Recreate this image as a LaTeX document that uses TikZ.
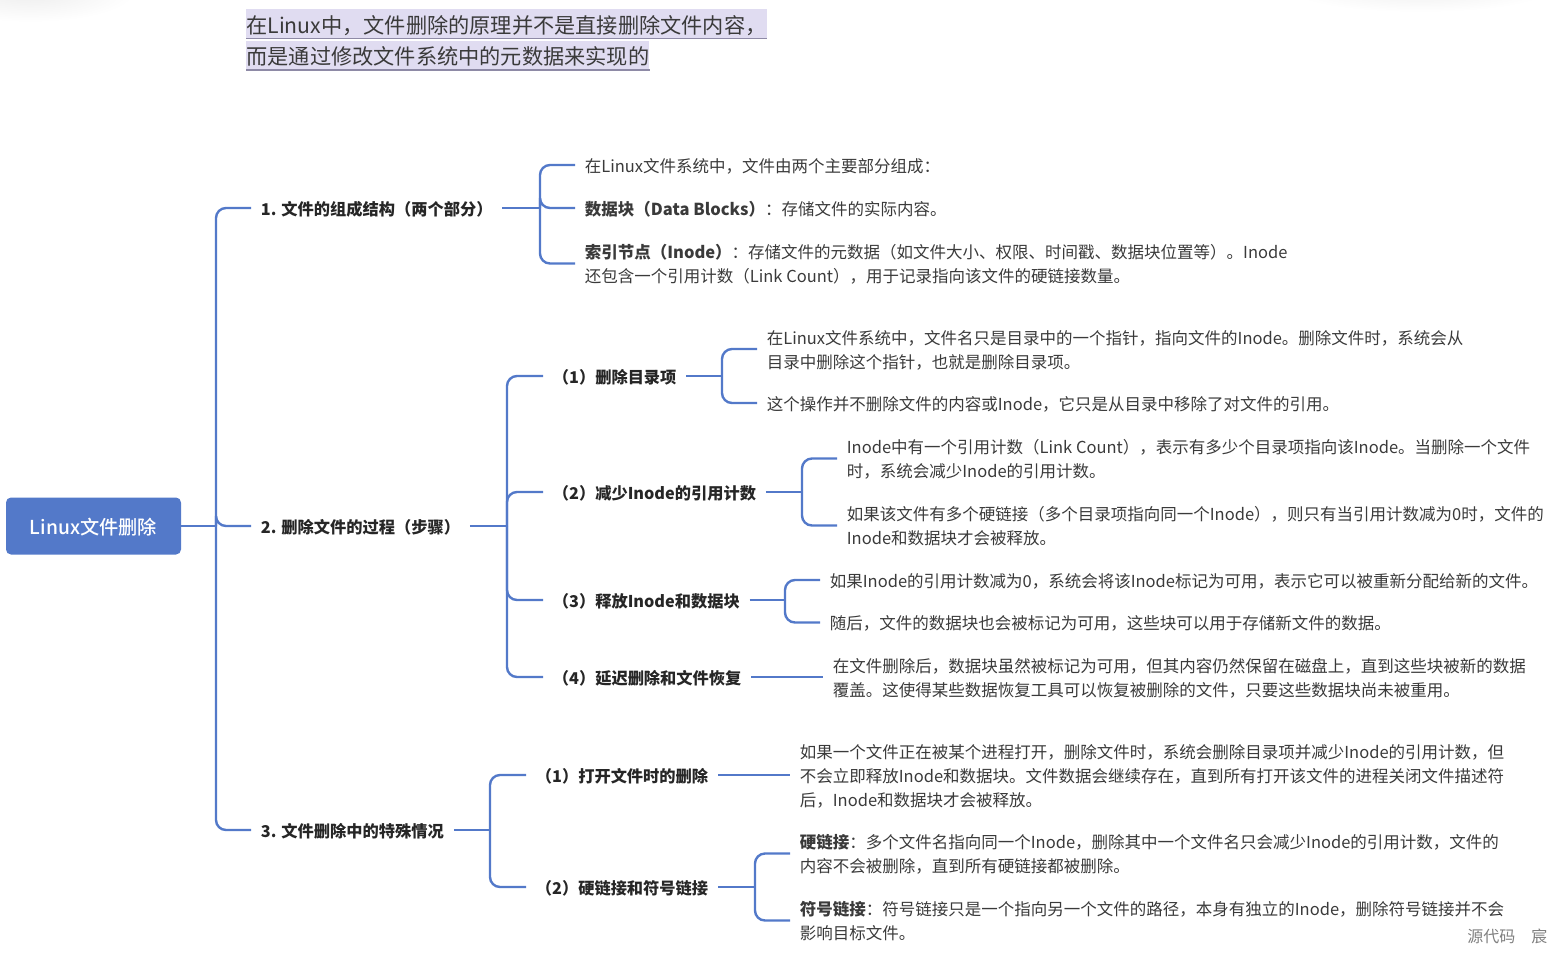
\documentclass[tikz,border=0pt]{standalone}
\usepackage{fontspec}
\usepackage{xcolor}
\setmainfont{Noto Sans CJK SC}
\newfontfamily\midfont{Noto Sans CJK SC}[UprightFont=* Medium]
\usetikzlibrary{calc, positioning}
\definecolor{linkblue}{HTML}{5379C9}
\definecolor{titlebg}{HTML}{E0DCF1}
\definecolor{titleline}{HTML}{8E8AA6}
\definecolor{inkgray}{HTML}{3A3A3A}
\tikzset{
  rootbox/.style={fill=linkblue, rounded corners=2.5pt, text=white, minimum width=87.5pt, minimum height=28.5pt,
    inner sep=0pt, font=\midfont\fontsize{9.6}{12}\selectfont},
  headline/.style={fill=titlebg, anchor=west, inner sep=0pt, text height=12pt, text depth=2.5pt, text=inkgray,
    font=\fontsize{10.6}{15}\selectfont},
  topic/.style={anchor=west, inner xsep=4.75pt, inner ysep=0pt, text=black!85, font=\bfseries\fontsize{8.12}{12}\selectfont},
  leaf/.style={anchor=west, inner xsep=4.75pt, inner ysep=0pt, align=left, text=inkgray, font=\fontsize{8.25}{12}\selectfont},
  link/.style={draw=linkblue, line width=1.2pt, rounded corners=5pt},
}

\begin{document}
\begin{tikzpicture}[x=0.5pt, y=-0.5pt]
\useasboundingbox (0,0) rectangle (1558,955);

% ------------------------------------------------------------------
% faint blur in the top corners
% ------------------------------------------------------------------
\shade[inner color=black!7, outer color=white, draw=none] (30,-8) ellipse (105 and 30);
\shade[inner color=black!6, outer color=white, draw=none] (1420,-10) ellipse (130 and 22);

% ------------------------------------------------------------------
% headline
% ------------------------------------------------------------------
\node[headline] (title1) at (246,23.5) {在Linux中，文件删除的原理并不是直接删除文件内容，};
\node[headline] (title2) at (246,55) {而是通过修改文件系统中的元数据来实现的};
\foreach \t in {title1,title2} {
  \draw[titleline, line width=0.8pt] (\t.south west) -- (\t.south east);
}

% ------------------------------------------------------------------
% root and first level, text set a little below the line reaching it
% ------------------------------------------------------------------
\node[rootbox] (root) at (93.5,526) {\raisebox{-0.75pt}[\height][\depth]{Linux文件删除}};
\node[topic] (n1) at (251,209) {1. 文件的组成结构（两个部分）};
\node[topic] (n2) at (251,527) {2. 删除文件的过程（步骤）};
\node[topic] (n3) at (251,831) {3. 文件删除中的特殊情况};

% ------------------------------------------------------------------
% second level
% ------------------------------------------------------------------
\node[topic] (s1) at (543,377) {（1）删除目录项};
\node[topic] (s2) at (543,493) {（2）减少Inode的引用计数};
\node[topic] (s3) at (543,601) {（3）释放Inode和数据块};
\node[topic] (s4) at (543,678) {（4）延迟删除和文件恢复};
\node[topic] (t1) at (526,776) {（1）打开文件时的删除};
\node[topic] (t2) at (526,888) {（2）硬链接和符号链接};

% ------------------------------------------------------------------
% leaves
% ------------------------------------------------------------------
\node[leaf] (a1) at (575,166) {在Linux文件系统中，文件由两个主要部分组成：};
\node[leaf] (a2) at (575,209) {\textbf{数据块（Data Blocks）}：存储文件的实际内容。};
\node[leaf] (a3) at (575,264.5) {\textbf{索引节点（Inode）}：存储文件的元数据（如文件大小、权限、时间戳、数据块位置等）。Inode\\还包含一个引用计数（Link Count），用于记录指向该文件的硬链接数量。};
\node[leaf] (b1) at (757,350) {在Linux文件系统中，文件名只是目录中的一个指针，指向文件的Inode。删除文件时，系统会从\\目录中删除这个指针，也就是删除目录项。};
\node[leaf] (b2) at (757,404) {这个操作并不删除文件的内容或Inode，它只是从目录中移除了对文件的引用。};
\node[leaf] (c1) at (837,459.5) {Inode中有一个引用计数（Link Count），表示有多少个目录项指向该Inode。当删除一个文件\\时，系统会减少Inode的引用计数。};
\node[leaf] (c2) at (837,526.5) {如果该文件有多个硬链接（多个目录项指向同一个Inode），则只有当引用计数减为0时，文件的\\Inode和数据块才会被释放。};
\node[leaf] (d1) at (820,581) {如果Inode的引用计数减为0，系统会将该Inode标记为可用，表示它可以被重新分配给新的文件。};
\node[leaf] (d2) at (820,623.5) {随后，文件的数据块也会被标记为可用，这些块可以用于存储新文件的数据。};
\node[leaf] (e1) at (823,678) {在文件删除后，数据块虽然被标记为可用，但其内容仍然保留在磁盘上，直到这些块被新的数据\\覆盖。这使得某些数据恢复工具可以恢复被删除的文件，只要这些数据块尚未被重用。};
\node[leaf] (f1) at (790,776) {如果一个文件正在被某个进程打开，删除文件时，系统会删除目录项并减少Inode的引用计数，但\\不会立即释放Inode和数据块。文件数据会继续存在，直到所有打开该文件的进程关闭文件描述符\\后，Inode和数据块才会被释放。};
\node[leaf] (g1) at (790,854.5) {\textbf{硬链接}：多个文件名指向同一个Inode，删除其中一个文件名只会减少Inode的引用计数，文件的\\内容不会被删除，直到所有硬链接都被删除。};
\node[leaf] (g2) at (790,921.5) {\textbf{符号链接}：符号链接只是一个指向另一个文件的路径，本身有独立的Inode，删除符号链接并不会\\影响目标文件。};

% watermark
\node[anchor=west, inner sep=0pt, text=black!50, font=\fontsize{8}{9}\selectfont] (mark1) at (1467,936) {源代码};
\node[anchor=west, inner sep=0pt, text=black!50, font=\fontsize{8}{9}\selectfont] (mark2) at (1531,936) {宸};

% ------------------------------------------------------------------
% junctions and connectors
% ------------------------------------------------------------------
\coordinate (j0) at (216,526);
\coordinate (j1) at (540,208);
\coordinate (j2) at (507,526);
\coordinate (j3) at (490,830);
\coordinate (js1) at (722,376);
\coordinate (js2) at (802,492);
\coordinate (js3) at (785,600);
\coordinate (jt2) at (755,887);

\draw[link] (root.east) -- (j0);
\foreach \from/\to in {n1/j1, n2/j2, n3/j3, s1/js1, s2/js2, s3/js3, t2/jt2} {
  \draw[link] ($(\from.east)+(0,-1)$) -- (\to);
}
\foreach \j/\c in {j0/n1, j0/n2, j0/n3, j2/s1, j2/s2, j2/s3, j2/s4, j3/t1, j3/t2,
    j1/a1, j1/a2, j1/a3, js1/b1, js1/b2, js2/c1, js2/c2, js3/d1, js3/d2, jt2/g1, jt2/g2} {
  \draw[link] (\j) |- ($(\c.west)+(0,-1)$);
}
\draw[link] ($(s4.east)+(0,-1)$) -- ($(e1.west)+(0,-1)$);
\draw[link] ($(t1.east)+(0,-1)$) -- ($(f1.west)+(0,-1)$);

\end{tikzpicture}
\end{document}
